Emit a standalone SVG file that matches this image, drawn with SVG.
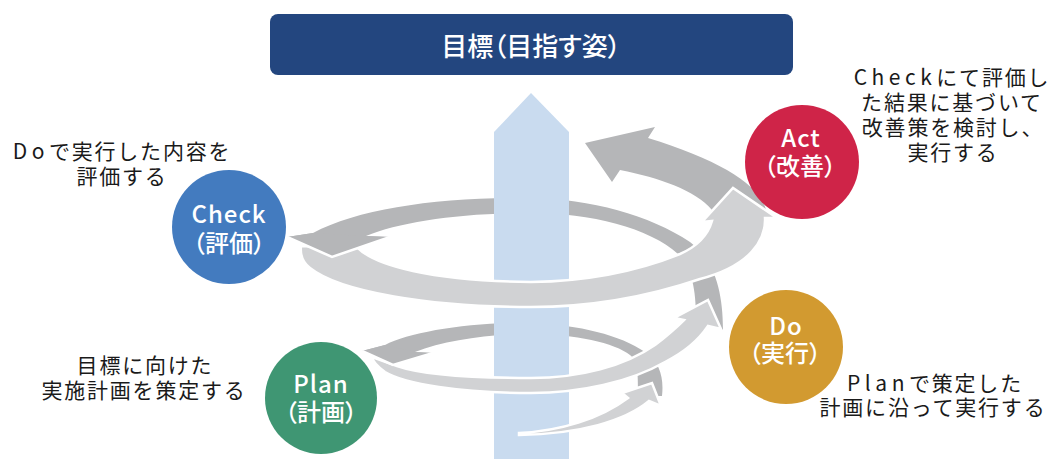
<svg xmlns="http://www.w3.org/2000/svg" width="1056" height="459" viewBox="0 0 1056 459">
<style>
text{font-family:'Noto Sans CJK JP','Noto Sans',sans-serif;}
.lbl{fill:#fff;font-size:24px;font-weight:500;text-anchor:middle;font-feature-settings:"palt";}
.en{letter-spacing:1px;}
.desc{fill:#1a1a1a;font-size:21px;text-anchor:middle;letter-spacing:1.8px;}
.lat{letter-spacing:4.5px;}
.back{fill:#b5b6b8;}
.front{fill:#d1d2d4;stroke:#fff;stroke-width:2.5;stroke-linejoin:miter;}
.edge{fill:none;stroke:#fff;stroke-width:2.5;}
</style>
<g id="title">
<rect x="270" y="14" width="523" height="61" rx="8" fill="#23467f"/>
<text x="531" y="56" fill="#fff" font-size="26" font-weight="500" text-anchor="middle" style="font-feature-settings:'palt'">目標（目指す姿）</text>
</g>
<g id="connectors">
<path class="back" d="M 662,396 C 664,378 660,362 645,352 C 620,335 580,325 531,323 C 470,322 410,332 385,345 L 362,351 L 393,365 L 433,353 L 415,352 C 445,340 490,334 531,334 C 575,334 615,343 630,355 C 638,362 638,372 638,396 Z"/>
<path class="back" d="M 723,330 C 723,290 714,260 690,242 C 650,215 590,199 531,198 C 440,197 360,208 313,233 L 287,237 L 332,257 L 390,237 L 366,236 C 400,222 460,213 531,213 C 590,213 650,228 678,254 C 692,268 696,290 696,318 Z"/>
<path class="back" d="M 766,210 C 760,185 720,160 648,138 L 655,127 L 585,143 L 612,182 L 620,170 C 660,178 695,190 712,210 Z"/>
<polygon id="goal-arrow" points="494,459 494,132 531,93 569,132 569,459" fill="#c9dbef"/>
<path class="front" d="M 519,433 C 560,431 600,419 628,398 L 622,393 L 652,383 L 661,406 L 649,401 C 625,421 580,434 519,435 Z"/>
<path class="front" d="M 372,357 L 397,366 C 420,374 460,378 531,378 C 580,378 625,366 655,345 C 668,335 678,326 684,320 L 674,318 L 708,300 L 721,329 L 708,326 C 700,338 685,352 665,362 C 630,382 580,393 531,393 C 460,393 405,384 385,372 C 378,367 373,362 372,357 Z"/>
<path class="front" d="M 301,246 L 358,248 C 375,265 430,281 531,282 C 600,281 650,266 680,254 C 698,246 708,235 712,221 L 702,222 L 733,188 L 777,218 L 765,218 C 766,240 750,266 700,279 C 650,296 590,307 531,307 C 430,307 340,292 310,268 C 302,262 300,255 301,246 Z"/>
<polygon class="back" points="313,233 287,237 332,257 390,237 366,236"/>
<polyline class="edge" points="287,237 332,257 390,237"/>
<polygon class="back" points="385,345 362,351 393,365 433,353 415,352"/>
<polyline class="edge" points="362,351 393,365 433,353"/>
</g>
<g id="check">
<circle cx="229" cy="227" r="57" fill="#437bbf"/>
<text class="lbl"><tspan class="en" x="229" y="223">Check</tspan><tspan x="229" y="252">（評価）</tspan></text>
</g>
<g id="act">
<circle cx="802" cy="162" r="57" fill="#cf2448"/>
<text class="lbl"><tspan class="en" x="801" y="147">Act</tspan><tspan x="800" y="175">（改善）</tspan></text>
</g>
<g id="do">
<circle cx="786" cy="347" r="57" fill="#d29a30"/>
<text class="lbl"><tspan class="en" x="786" y="335">Do</tspan><tspan x="785" y="362">（実行）</tspan></text>
</g>
<g id="plan">
<circle cx="321" cy="398" r="56" fill="#3f9673"/>
<text class="lbl"><tspan class="en" x="321" y="393">Plan</tspan><tspan x="321" y="421">（計画）</tspan></text>
</g>
<g id="descriptions">
<text class="desc"><tspan x="952" y="85"><tspan class="lat">Check</tspan>にて評価し</tspan><tspan x="952" y="110">た結果に基づいて</tspan><tspan x="953" y="135">改善策を検討し、</tspan><tspan x="953" y="160">実行する</tspan></text>
<text class="desc"><tspan x="122" y="159"><tspan class="lat">Do</tspan>で実行した内容を</tspan><tspan x="122" y="184">評価する</tspan></text>
<text class="desc"><tspan x="935" y="391"><tspan class="lat">Plan</tspan>で策定した</tspan><tspan x="933" y="415">計画に沿って実行する</tspan></text>
<text class="desc"><tspan x="145" y="373">目標に向けた</tspan><tspan x="144" y="398">実施計画を策定する</tspan></text>
</g>
</svg>
